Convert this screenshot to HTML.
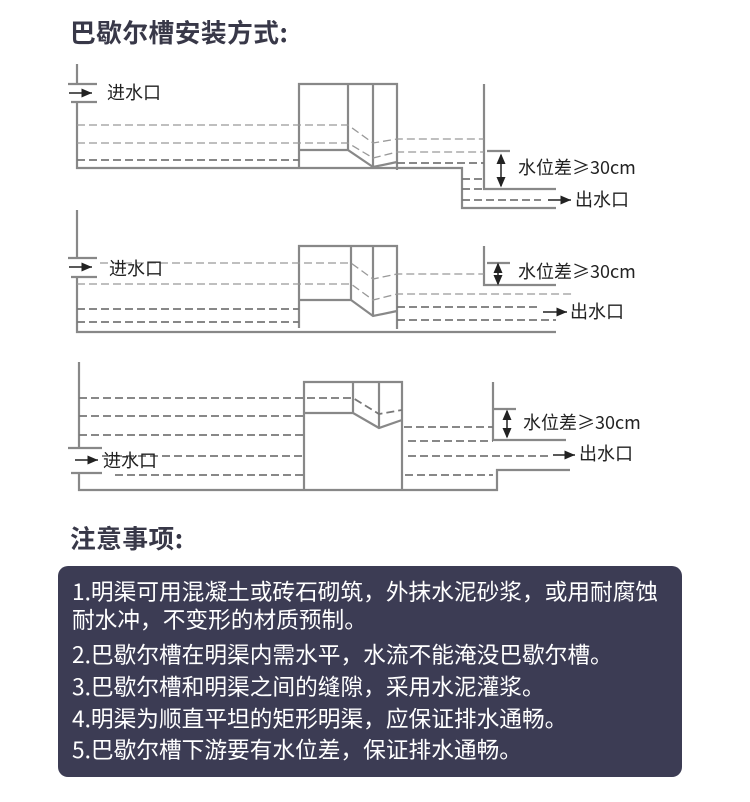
<!DOCTYPE html>
<html><head><meta charset="utf-8"><style>
body{margin:0;width:750px;height:802px;background:#fff;position:relative;overflow:hidden;font-family:"Noto Sans CJK SC","Liberation Sans",sans-serif;}
.t{position:absolute;left:70px;font-size:25.7px;font-weight:bold;color:#383848;letter-spacing:0.5px;line-height:34px;}
.box{position:absolute;left:58px;top:566px;width:624px;height:211px;background:#3c3c54;border-radius:10px;color:#fff;font-size:22.7px;}
.box div{position:absolute;left:14px;white-space:nowrap;line-height:30px;}
svg{position:absolute;left:0;top:0}
svg text{font-family:"Noto Sans CJK SC",sans-serif;font-size:18px;fill:#222;}
</style></head><body>
<div class="t" style="top:15px">巴歇尔槽安装方式:</div>
<div class="t" style="top:521px">注意事项:</div>
<svg width="750" height="560" viewBox="0 0 750 560">
<defs><marker id="a" markerWidth="8" markerHeight="8" refX="7" refY="4" orient="auto"><path d="M0,1 L7,4 L0,7z" fill="#222"/></marker>
<marker id="b" markerWidth="8" markerHeight="8" refX="6" refY="4" orient="auto-start-reverse"><path d="M0,1 L7,4 L0,7z" fill="#222"/></marker></defs>
<g fill="none" stroke="#888" stroke-width="2.2">
<path d="M77 64V84M68 84H97M71 102H97M77 102V168H462V208H556"/>
<path d="M299 168V84H397V170M299 150H348M348 84V150L373 167L397 162M373 84V167"/>
<path d="M484 84V189H556M487 151H510"/>
<path d="M77 210V258M68 258H97M71 277H97M77 277V332H556"/>
<path d="M299 328V246H397V329M299 300H351M351 246V300L373 316L397 311M373 246V316"/>
<path d="M484 246V285H556M487 263H510"/>
<path d="M79 362V448M68 448H102M71 473H102M79 473V490H497V470H570"/>
<path d="M304 490V382H402V489M304 413H353M353 382V413L379 428L402 420M379 382V428"/>
<path d="M493 382V440H566M493 409H516"/>
</g>
<g fill="none" stroke="#999" stroke-width="1.3" stroke-dasharray="8,4">
<path d="M77 125H348L373 143L397 139H484M77 143H348L373 158L397 152H484"/>
<path d="M100 263H351L373 279L397 274H484M77 284H351L373 300L397 294H575"/>
</g>
<g fill="none" stroke="#777" stroke-width="1.8" stroke-dasharray="8,4">
<path d="M77 160H299M397 163H484M462 179H484M462 189H484M462 200H541"/>
<path d="M77 309H299M77 322H299M397 307H541M397 320H556"/>
<path d="M79 398H353L379 414L402 410M79 416H304M79 435H304M102 456H304M115 475H304"/>
<path d="M404 427H493M408 441H493M408 456H552M405 475H493"/>
</g>
<g stroke="#222" stroke-width="1.5" fill="none">
<path d="M69 93H92" marker-end="url(#a)"/><path d="M548 200H571" marker-end="url(#a)"/>
<path d="M501 155V186" marker-start="url(#b)" marker-end="url(#b)"/>
<path d="M69 267H92" marker-end="url(#a)"/><path d="M543 312H567" marker-end="url(#a)"/>
<path d="M498 264V284" marker-start="url(#b)" marker-end="url(#b)"/>
<path d="M75 460H98" marker-end="url(#a)"/><path d="M553 455H575" marker-end="url(#a)"/>
<path d="M507 411V437" marker-start="url(#b)" marker-end="url(#b)"/>
</g>
<text x="107" y="99">进水口</text><text x="518" y="174">水位差≥30cm</text><text x="575" y="206">出水口</text>
<text x="109" y="275">进水口</text><text x="518" y="278">水位差≥30cm</text><text x="570" y="318">出水口</text>
<text x="103" y="467">进水口</text><text x="523" y="429">水位差≥30cm</text><text x="579" y="460">出水口</text>
</svg>
<div class="box">
<div style="top:10px">1.明渠可用混凝土或砖石砌筑，外抹水泥砂浆，或用耐腐蚀</div>
<div style="top:38px">耐水冲，不变形的材质预制。</div>
<div style="top:73px">2.巴歇尔槽在明渠内需水平，水流不能淹没巴歇尔槽。</div>
<div style="top:105px">3.巴歇尔槽和明渠之间的缝隙，采用水泥灌浆。</div>
<div style="top:137px">4.明渠为顺直平坦的矩形明渠，应保证排水通畅。</div>
<div style="top:168px">5.巴歇尔槽下游要有水位差，保证排水通畅。</div>
</div>
</body></html>
